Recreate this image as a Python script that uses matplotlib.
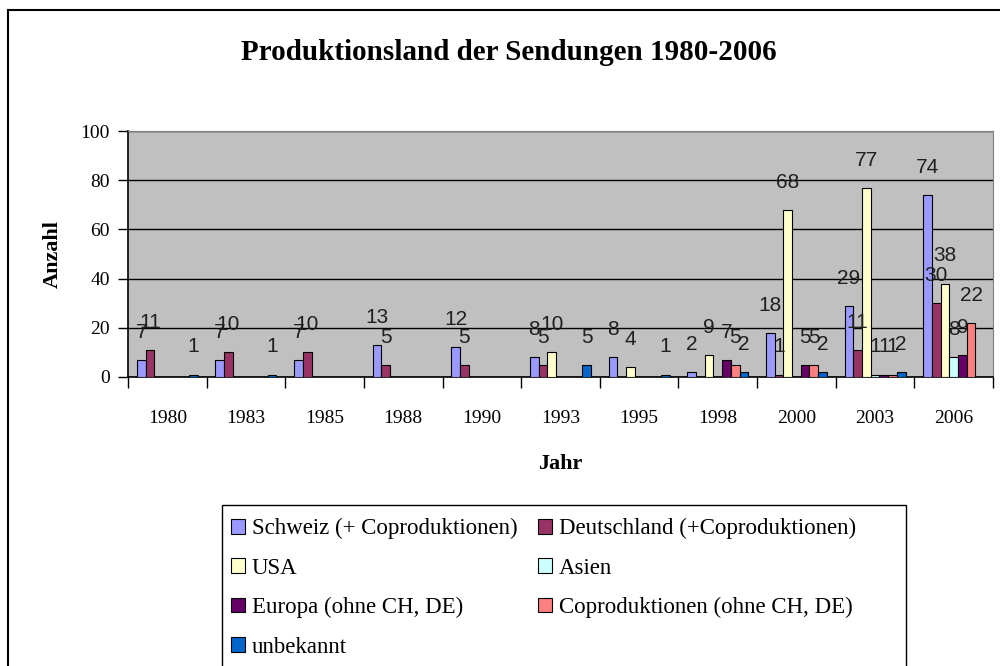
import numpy as np
import matplotlib
matplotlib.use("Agg")
import matplotlib.pyplot as plt
from matplotlib.patches import Patch, Rectangle
from matplotlib.lines import Line2D

# Data
years = ["1980", "1983", "1985", "1988", "1990", "1993", "1995", "1998", "2000", "2003", "2006"]
schweiz = [7, 7, 7, 13, 12, 8, 8, 2, 18, 29, 74]
deutschland = [11, 10, 10, 5, 5, 5, 0, 0, 1, 11, 30]
usa = [0, 0, 0, 0, 0, 10, 4, 9, 68, 77, 38]
asien = [0, 0, 0, 0, 0, 0, 0, 0, 0, 1, 8]
europa = [0, 0, 0, 0, 0, 0, 0, 7, 5, 1, 9]
copro = [0, 0, 0, 0, 0, 0, 0, 5, 5, 1, 22]
unbekannt = [1, 1, 0, 0, 0, 5, 1, 2, 2, 2, 0]

series_names = ["Schweiz (+ Coproduktionen)", "Deutschland (+Coproduktionen)", "USA", "Asien",
                "Europa (ohne CH, DE)", "Coproduktionen (ohne CH, DE)", "unbekannt"]
series_values = [schweiz, deutschland, usa, asien, europa, copro, unbekannt]
colors = ["#9999FF", "#993366", "#FFFFCC", "#CCFFFF", "#660066", "#FF8080", "#0066CC"]

serif = "Liberation Serif"

fig = plt.figure(figsize=(10, 6.66), dpi=100)
ax = fig.add_axes([0.128, 1 - 377 / 666, 0.865, 246 / 666])
ax.set_facecolor("#C0C0C0")

x = np.arange(len(years))
group = 0.775
w = group / len(series_values)
for k, (vals, col) in enumerate(zip(series_values, colors)):
    pos = x - group / 2 + (k + 0.5) * w
    ax.bar(pos, vals, width=w, color=col, edgecolor="black", linewidth=0.8, zorder=3)
    for px, v in zip(pos, vals):
        if v > 0:
            ax.annotate(str(v), (px, v), xytext=(0, 13), textcoords="offset points",
                        ha="center", va="bottom", fontsize=15, family="Liberation Sans",
                        color="#202020", zorder=4)

ax.set_xlim(-0.5, len(years) - 0.5)
ax.set_ylim(0, 100)
ax.set_yticks([0, 20, 40, 60, 80, 100])
ax.yaxis.grid(True, color="black", linewidth=1.0, zorder=1)
ax.tick_params(axis="y", direction="out", length=7, width=1, labelsize=14, pad=6)
for lab in ax.get_yticklabels():
    lab.set_family(serif)

# category boundaries as major ticks, year labels on minor ticks
ax.set_xticks(np.arange(len(years) + 1) - 0.5)
ax.set_xticklabels([])
ax.set_xticks(x, minor=True)
ax.set_xticklabels(years, minor=True, family=serif, fontsize=14)
ax.tick_params(axis="x", which="major", direction="out", length=8, width=1)
ax.tick_params(axis="x", which="minor", length=0, pad=24)

for s in ["left", "bottom"]:
    ax.spines[s].set_color("black")
    ax.spines[s].set_linewidth(1.2)
for s in ["top", "right"]:
    ax.spines[s].set_color("#808080")

ax.set_ylabel("Anzahl", family=serif, fontweight="bold", fontsize=16, labelpad=13)
ax.set_xlabel("Jahr", family=serif, fontweight="bold", fontsize=16, labelpad=19)

fig.text(0.509, 1 - 52 / 666, "Produktionsland der Sendungen 1980-2006", ha="center", va="center",
         family=serif, fontweight="bold", fontsize=21)

# outer chart border (cropped at right and bottom)
fig.add_artist(Line2D([0.008, 0.008], [0, 1 - 10 / 666], color="black", linewidth=1.5))
fig.add_artist(Line2D([0.008, 1], [1 - 10 / 666, 1 - 10 / 666], color="black", linewidth=1.5))

# legend box (runs off the bottom like in the reference)
fig.add_artist(Rectangle((0.222, -0.05), 0.684, 1.05 - 505 / 666, transform=fig.transFigure,
                         facecolor="white", edgecolor="black", linewidth=1.0, zorder=1))

# legend, row-wise order in two columns
order = [0, 2, 4, 6, 1, 3, 5]
handles = [Patch(facecolor=colors[i], edgecolor="black", linewidth=0.8) for i in order]
labels = [series_names[i] for i in order]
leg = fig.legend(handles, labels, ncol=2, loc="upper left", bbox_to_anchor=(0.222, 1 - 509 / 666),
                 frameon=False, prop={"family": serif, "size": 16.5}, handlelength=0.6,
                 handleheight=0.6, handletextpad=0.3, columnspacing=0.9, labelspacing=0.8,
                 borderpad=0.4, borderaxespad=0)
leg.set_zorder(2)

fig.savefig("out.png", dpi=100)
